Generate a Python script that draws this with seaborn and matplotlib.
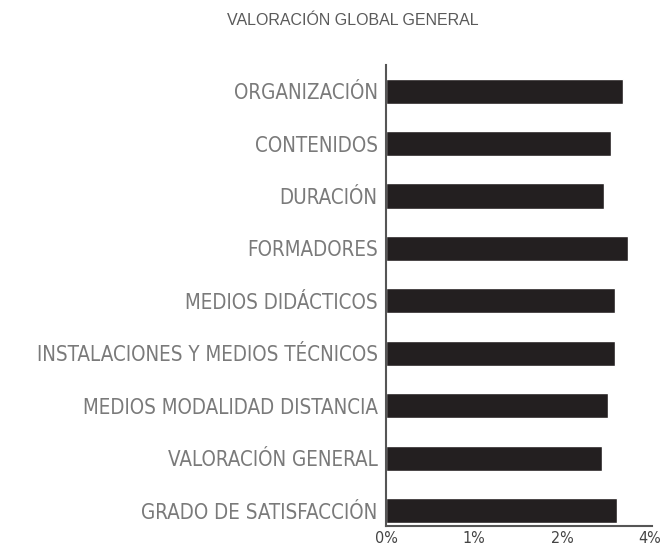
import matplotlib
matplotlib.use("Agg")
import matplotlib.pyplot as plt
import seaborn as sns
import pandas as pd

categorias = ["ORGANIZACIÓN", "CONTENIDOS", "DURACIÓN", "FORMADORES",
              "MEDIOS DIDÁCTICOS", "INSTALACIONES Y MEDIOS TÉCNICOS",
              "MEDIOS MODALIDAD DISTANCIA", "VALORACIÓN GENERAL",
              "GRADO DE SATISFACCIÓN"]
valores = [2.69, 2.56, 2.48, 2.75, 2.60, 2.60, 2.52, 2.46, 2.63]
ticks_x = [0, 1, 2, 3]
etiquetas_x = ["0%", "1%", "2%", "4%"]

df = pd.DataFrame({"cat": categorias, "val": valores})

sns.set_style("white")
plt.rcParams["font.family"] = ["DejaVu Sans"]

fig = plt.figure(figsize=(6.61, 5.5), dpi=100)
ax = fig.add_axes([0.584, 0.044, 0.402, 0.838])

sns.barplot(data=df, y="cat", x="val", color="#231f20", saturation=1,
            width=0.48, orient="h", ax=ax)

ax.set_xlim(0, 3.02)
ax.set_ylim(8.29, -0.5)
ax.set_xticks(ticks_x)
ax.set_xticklabels(etiquetas_x, fontsize=11.5, color="#444444", fontstretch="condensed")
ax.set_yticks(range(len(categorias)))
ax.set_yticklabels(categorias, fontsize=14.8, color="#7a7a7a", fontstretch="condensed")
ax.tick_params(axis="y", length=0, pad=6)
ax.tick_params(axis="x", length=0, pad=4)
ax.set_xlabel("")
ax.set_ylabel("")
for s in ["top", "right"]:
    ax.spines[s].set_visible(False)
for s in ["left", "bottom"]:
    ax.spines[s].set_color("#555555")
    ax.spines[s].set_linewidth(1.5)

fig.text(0.534, 0.962, "VALORACIÓN GLOBAL GENERAL", ha="center", va="center",
         fontsize=11.5, color="#5a5a5a", family=["Liberation Sans", "DejaVu Sans"])

fig.savefig("out.png", dpi=100)
